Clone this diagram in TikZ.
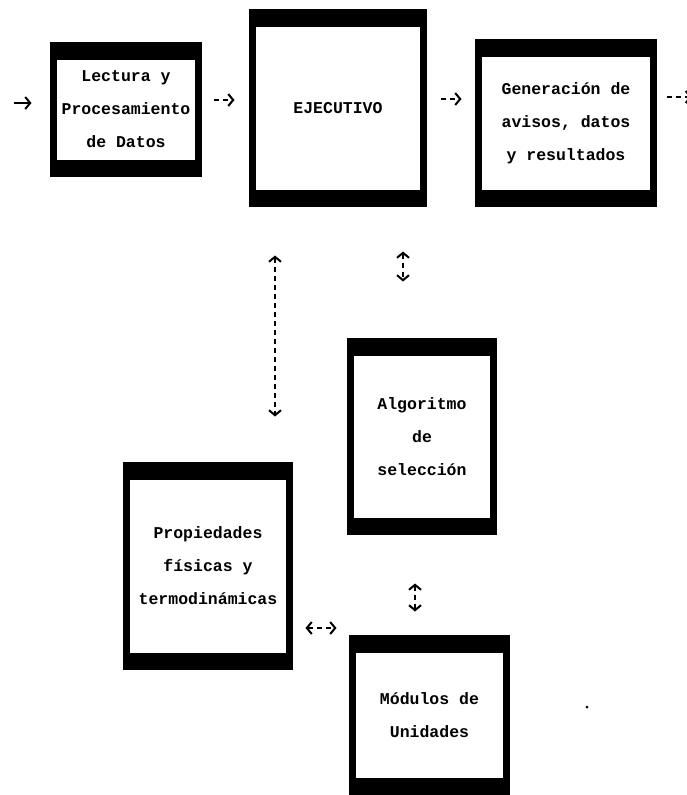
\documentclass[tikz,border=0pt]{standalone}
\usepackage{fontspec}
\setmainfont{Liberation Mono}
\usetikzlibrary{arrows.meta}
\begin{document}
\begin{tikzpicture}[x=1pt,y=-1pt,
  box/.style={draw=black, line width=7pt, fill=white, inner sep=0pt, align=center,
    font=\bfseries\fontsize{16.5}{33}\selectfont,
    path picture={
      \fill[black] (path picture bounding box.north west) rectangle ([yshift=-14pt]path picture bounding box.north east);
      \fill[black] (path picture bounding box.south west) rectangle ([yshift=14pt]path picture bounding box.south east);}},
  tipb/.tip={Straight Barb[length=5pt,width=12pt,line width=2pt]},
  conn/.style={line width=2pt, dash pattern=on 5pt off 4pt, -tipb},
  conn2/.style={line width=2pt, dash pattern=on 5pt off 4pt, tipb-tipb},
  solidconn/.style={line width=2pt, -tipb}
]
\useasboundingbox (0,0) rectangle (687,795);
\fill[white] (0,0) rectangle (687,795);

\node[box, minimum width=145pt, minimum height=128pt] (lectura) at (126,109.5) {Lectura y\\Procesamiento\\de Datos};
\node[box, minimum width=171pt, minimum height=191pt] (ejec) at (338,108) {EJECUTIVO};
\node[box, minimum width=175pt, minimum height=161pt] (gen) at (566,123) {Generación de\\avisos, datos\\y resultados};
\node[box, minimum width=143pt, minimum height=190pt] (algo) at (422,436.5) {Algoritmo\\de\\selección};
\node[box, minimum width=163pt, minimum height=201pt] (prop) at (208,566) {Propiedades\\físicas y\\termodinámicas};
\node[box, minimum width=154pt, minimum height=153pt] (mod) at (429.5,715) {Módulos de\\Unidades};

\coordinate (src) at (14,103);
\coordinate (h1) at (0,100);
\coordinate (h2) at (0,99);
\coordinate (sink) at (692,97);
\coordinate (v1) at (275,0);
\coordinate (v2) at (403,0);
\coordinate (v3) at (415,0);
\coordinate (h7) at (0,628);

\draw[solidconn, shorten >=18.5pt] (src) -- (src -| lectura.west);
\draw[conn, shorten <=11.5pt, shorten >=14.5pt] (h1 -| lectura.east) -- (h1 -| ejec.west);
\draw[conn, shorten <=13.5pt, shorten >=13.5pt] (h2 -| ejec.east) -- (h2 -| gen.west);
\draw[conn, shorten <=9.5pt] (sink -| gen.east) -- (sink);
\draw[conn2, shorten <=48.5pt, shorten >=45.5pt] (v1 |- ejec.south) -- (v1 |- prop.north);
\draw[conn2, shorten <=44.5pt, shorten >=56.5pt] (v2 |- ejec.south) -- (v2 |- algo.north);
\draw[conn2, shorten <=48.5pt, shorten >=23.5pt] (v3 |- algo.south) -- (v3 |- mod.north);
\draw[conn2, shorten <=12.5pt, shorten >=12.5pt] (h7 -| prop.east) -- (h7 -| mod.west);

\fill[black] (587,707) circle (1.5pt);
\end{tikzpicture}
\end{document}
